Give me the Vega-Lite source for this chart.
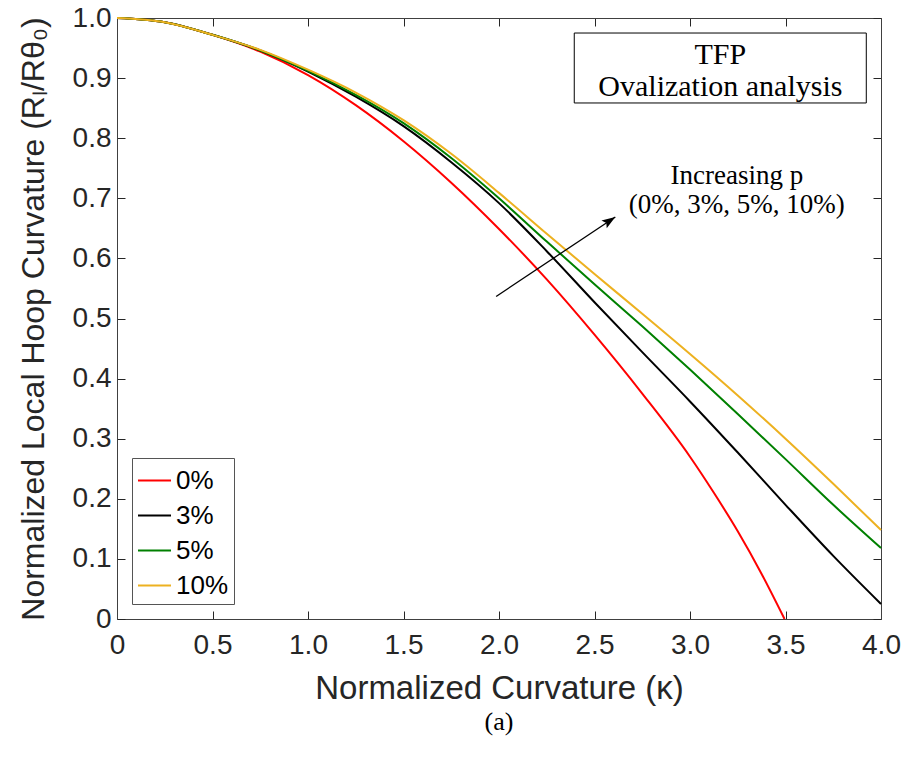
{
  "$schema": "https://vega.github.io/schema/vega-lite/v6.json",
  "width": 764,
  "height": 601,
  "autosize": {"type": "none"},
  "padding": {"left": 117, "top": 18, "right": 23, "bottom": 139},
  "background": "white",
  "config": {"view": {"stroke": null}, "font": "Liberation Sans"},
  "title": {"text": "(a)", "orient": "bottom", "font": "Liberation Serif", "fontSize": 26, "fontWeight": "normal", "color": "black", "offset": 4, "anchor": "middle"},
  "datasets": {
    "curves": [
      {"p": "0%", "kappa": 0, "ratio": 1.0},
      {"p": "0%", "kappa": 0.25, "ratio": 0.993},
      {"p": "0%", "kappa": 0.5, "ratio": 0.972},
      {"p": "0%", "kappa": 0.75, "ratio": 0.944},
      {"p": "0%", "kappa": 1.0, "ratio": 0.905},
      {"p": "0%", "kappa": 1.25, "ratio": 0.855},
      {"p": "0%", "kappa": 1.5, "ratio": 0.795},
      {"p": "0%", "kappa": 1.75, "ratio": 0.726},
      {"p": "0%", "kappa": 2.0, "ratio": 0.649},
      {"p": "0%", "kappa": 2.25, "ratio": 0.565},
      {"p": "0%", "kappa": 2.5, "ratio": 0.473},
      {"p": "0%", "kappa": 2.75, "ratio": 0.375},
      {"p": "0%", "kappa": 3.0, "ratio": 0.27},
      {"p": "0%", "kappa": 3.125, "ratio": 0.21},
      {"p": "0%", "kappa": 3.25, "ratio": 0.146},
      {"p": "0%", "kappa": 3.375, "ratio": 0.075},
      {"p": "0%", "kappa": 3.495, "ratio": 0.0},
      {"p": "3%", "kappa": 0, "ratio": 1.0},
      {"p": "3%", "kappa": 0.25, "ratio": 0.993},
      {"p": "3%", "kappa": 0.5, "ratio": 0.972},
      {"p": "3%", "kappa": 0.75, "ratio": 0.946},
      {"p": "3%", "kappa": 1.0, "ratio": 0.911},
      {"p": "3%", "kappa": 1.25, "ratio": 0.869},
      {"p": "3%", "kappa": 1.5, "ratio": 0.82},
      {"p": "3%", "kappa": 1.75, "ratio": 0.76},
      {"p": "3%", "kappa": 2.0, "ratio": 0.692},
      {"p": "3%", "kappa": 2.25, "ratio": 0.612},
      {"p": "3%", "kappa": 2.5, "ratio": 0.527},
      {"p": "3%", "kappa": 2.75, "ratio": 0.444},
      {"p": "3%", "kappa": 3.0, "ratio": 0.362},
      {"p": "3%", "kappa": 3.25, "ratio": 0.277},
      {"p": "3%", "kappa": 3.5, "ratio": 0.19},
      {"p": "3%", "kappa": 3.75, "ratio": 0.105},
      {"p": "3%", "kappa": 4.0, "ratio": 0.025},
      {"p": "5%", "kappa": 0, "ratio": 1.0},
      {"p": "5%", "kappa": 0.25, "ratio": 0.993},
      {"p": "5%", "kappa": 0.5, "ratio": 0.972},
      {"p": "5%", "kappa": 0.75, "ratio": 0.946},
      {"p": "5%", "kappa": 1.0, "ratio": 0.912},
      {"p": "5%", "kappa": 1.25, "ratio": 0.872},
      {"p": "5%", "kappa": 1.5, "ratio": 0.825},
      {"p": "5%", "kappa": 1.75, "ratio": 0.767},
      {"p": "5%", "kappa": 2.0, "ratio": 0.7},
      {"p": "5%", "kappa": 2.25, "ratio": 0.628},
      {"p": "5%", "kappa": 2.5, "ratio": 0.557},
      {"p": "5%", "kappa": 2.75, "ratio": 0.487},
      {"p": "5%", "kappa": 3.0, "ratio": 0.415},
      {"p": "5%", "kappa": 3.25, "ratio": 0.341},
      {"p": "5%", "kappa": 3.5, "ratio": 0.266},
      {"p": "5%", "kappa": 3.75, "ratio": 0.19},
      {"p": "5%", "kappa": 4.0, "ratio": 0.118},
      {"p": "10%", "kappa": 0, "ratio": 1.0},
      {"p": "10%", "kappa": 0.25, "ratio": 0.993},
      {"p": "10%", "kappa": 0.5, "ratio": 0.972},
      {"p": "10%", "kappa": 0.75, "ratio": 0.947},
      {"p": "10%", "kappa": 1.0, "ratio": 0.914},
      {"p": "10%", "kappa": 1.25, "ratio": 0.876},
      {"p": "10%", "kappa": 1.5, "ratio": 0.83},
      {"p": "10%", "kappa": 1.75, "ratio": 0.774},
      {"p": "10%", "kappa": 2.0, "ratio": 0.709},
      {"p": "10%", "kappa": 2.25, "ratio": 0.641},
      {"p": "10%", "kappa": 2.5, "ratio": 0.574},
      {"p": "10%", "kappa": 2.75, "ratio": 0.508},
      {"p": "10%", "kappa": 3.0, "ratio": 0.441},
      {"p": "10%", "kappa": 3.25, "ratio": 0.372},
      {"p": "10%", "kappa": 3.5, "ratio": 0.3},
      {"p": "10%", "kappa": 3.75, "ratio": 0.225},
      {"p": "10%", "kappa": 4.0, "ratio": 0.148}
    ],
    "box": [{"x1": 2.394, "x2": 3.923, "y1": 0.8586, "y2": 0.975}],
    "boxtext": [
      {"x": 3.159, "y": 0.923, "label": "TFP"},
      {"x": 3.159, "y": 0.870, "label": "Ovalization analysis"}
    ],
    "arrowtext": [
      {"x": 3.245, "y": 0.723, "label": "Increasing p"},
      {"x": 3.245, "y": 0.676, "label": "(0%, 3%, 5%, 10%)"}
    ],
    "arrow": [{"x": 1.985, "y": 0.5366, "x2": 2.609, "y2": 0.669}]
  },
  "layer": [
    {
      "data": {"name": "curves"},
      "mark": {"type": "line", "strokeWidth": 2, "interpolate": "monotone"},
      "encoding": {
        "x": {
          "field": "kappa", "type": "quantitative",
          "scale": {"domain": [0, 4], "nice": false, "zero": false},
          "axis": {
            "orient": "bottom",
            "values": [0, 0.5, 1, 1.5, 2, 2.5, 3, 3.5, 4],
            "labelExpr": "datum.value == 0 ? '0' : format(datum.value, '.1f')",
            "title": "Normalized Curvature (κ)",
            "titleFont": "Liberation Sans", "titleFontSize": 33, "titleFontWeight": "normal", "titleColor": "#262626", "titlePadding": 13,
            "labelFont": "Liberation Sans", "labelFontSize": 28, "labelColor": "#262626", "labelFlush": false, "labelOverlap": false,
            "tickSize": -8, "labelPadding": 20, "tickColor": "#262626", "domainColor": "#404040", "grid": false
          }
        },
        "y": {
          "field": "ratio", "type": "quantitative",
          "scale": {"domain": [0, 1], "nice": false, "zero": false},
          "axis": {
            "orient": "left",
            "values": [0, 0.1, 0.2, 0.3, 0.4, 0.5, 0.6, 0.7, 0.8, 0.9, 1],
            "labelExpr": "datum.value == 0 ? '0' : format(datum.value, '.1f')",
            "title": "Normalized Local Hoop Curvature (Rₗ/Rθ₀)",
            "titleFont": "Liberation Sans", "titleFontSize": 32, "titleFontWeight": "normal", "titleColor": "#262626", "titlePadding": 22,
            "labelFont": "Liberation Sans", "labelFontSize": 28, "labelColor": "#262626", "labelFlush": false, "labelOverlap": false,
            "tickSize": -8, "labelPadding": 14, "tickColor": "#262626", "domainColor": "#404040", "grid": false
          }
        },
        "color": {
          "field": "p", "type": "nominal",
          "scale": {"domain": ["0%", "3%", "5%", "10%"], "range": ["#FF0000", "#000000", "#008000", "#EDB120"]},
          "legend": {
            "orient": "bottom-left", "offset": 15, "title": null,
            "symbolType": "stroke", "symbolSize": 1089, "symbolStrokeWidth": 2,
            "labelFont": "Liberation Sans", "labelFontSize": 26, "labelColor": "#000000", "labelOffset": 4,
            "strokeColor": "#555555", "fillColor": "white", "padding": 5, "rowPadding": 4
          }
        },
        "order": {"field": "kappa", "type": "quantitative"}
      }
    },
    {
      "data": {"name": "curves"},
      "mark": {"type": "point", "opacity": 0},
      "encoding": {
        "x": {
          "field": "kappa", "type": "quantitative",
          "axis": {"orient": "top", "values": [0, 0.5, 1, 1.5, 2, 2.5, 3, 3.5, 4], "labels": false, "title": null, "tickSize": -8, "tickColor": "#262626", "domainColor": "#404040", "grid": false}
        },
        "y": {
          "field": "ratio", "type": "quantitative",
          "axis": {"orient": "right", "values": [0, 0.1, 0.2, 0.3, 0.4, 0.5, 0.6, 0.7, 0.8, 0.9, 1], "labels": false, "title": null, "tickSize": -8, "tickColor": "#262626", "domainColor": "#404040", "grid": false}
        }
      }
    },
    {
      "data": {"name": "box"},
      "mark": {"type": "rect", "fill": "white", "stroke": "#000000", "strokeWidth": 1},
      "encoding": {
        "x": {"field": "x1", "type": "quantitative", "axis": null},
        "x2": {"field": "x2"},
        "y": {"field": "y1", "type": "quantitative", "axis": null},
        "y2": {"field": "y2"}
      }
    },
    {
      "data": {"name": "boxtext"},
      "mark": {"type": "text", "font": "Liberation Serif", "fontSize": 30, "align": "center", "baseline": "alphabetic", "color": "#000000"},
      "encoding": {
        "x": {"field": "x", "type": "quantitative", "axis": null},
        "y": {"field": "y", "type": "quantitative", "axis": null},
        "text": {"field": "label"}
      }
    },
    {
      "data": {"name": "arrowtext"},
      "mark": {"type": "text", "font": "Liberation Serif", "fontSize": 27, "align": "center", "baseline": "alphabetic", "color": "#000000"},
      "encoding": {
        "x": {"field": "x", "type": "quantitative", "axis": null},
        "y": {"field": "y", "type": "quantitative", "axis": null},
        "text": {"field": "label"}
      }
    },
    {
      "data": {"name": "arrow"},
      "mark": {"type": "rule", "stroke": "#000000", "strokeWidth": 1.3},
      "encoding": {
        "x": {"field": "x", "type": "quantitative", "axis": null},
        "y": {"field": "y", "type": "quantitative", "axis": null},
        "x2": {"field": "x2"},
        "y2": {"field": "y2"}
      }
    },
    {
      "data": {"name": "arrow"},
      "mark": {"type": "point", "shape": "M0,0L0.35,1L0,0.8L-0.35,1Z", "size": 729, "angle": 56.3, "filled": true, "color": "#000000", "opacity": 1},
      "encoding": {
        "x": {"field": "x2", "type": "quantitative", "axis": null},
        "y": {"field": "y2", "type": "quantitative", "axis": null}
      }
    }
  ],
  "resolve": {"axis": {"x": "independent", "y": "independent"}}
}
